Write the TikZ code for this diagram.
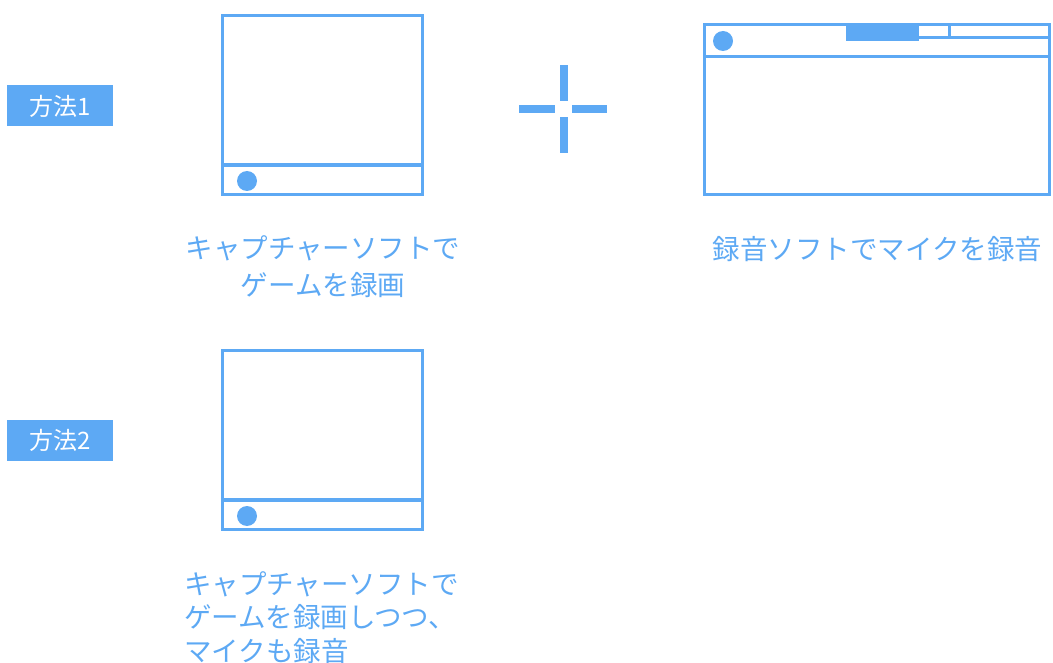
\documentclass[tikz,border=0pt]{standalone}
\usepackage{fontspec}
\newfontfamily\cjk{Noto Sans CJK JP}
\definecolor{bl}{HTML}{5DA9F4}
\tikzset{
  tag/.style={fill=bl, text=white, minimum width=106pt, minimum height=41pt, inner sep=0pt, font=\cjk\fontsize{24}{28}\selectfont},
  frame/.style={draw=bl, line width=3.5pt, inner sep=0pt},
  rule/.style={draw=bl, line width=3.5pt},
  dot/.style={circle, fill=bl, minimum size=20pt, inner sep=0pt},
  bar/.style={fill=bl, draw=none},
  caption/.style={text=bl, inner sep=0pt, font=\cjk\fontsize{27.5}{37}\selectfont}
}
\begin{document}
\begin{tikzpicture}[x=1pt,y=-1pt]
\useasboundingbox (0,0) rectangle (1053,663);
% labels
\node[tag] (m1) at (60,106) {方法1};
\node[tag] (m2) at (60,440.5) {方法2};
% game window 1
\node[frame, minimum width=200pt, minimum height=179pt] (w1) at (322.5,105) {};
\draw[rule] (w1.west |- 0,165) coordinate (w1a) -- (w1.east |- 0,165) coordinate (w1b);
\node[dot] (d1) at (247,181) {};
% game window 2
\node[frame, minimum width=200pt, minimum height=179pt] (w2) at (322.5,440) {};
\draw[rule] (w2.west |- 0,500) coordinate (w2a) -- (w2.east |- 0,500) coordinate (w2b);
\node[dot] (d2) at (247,516) {};
% plus
\fill[bar] (560,65) rectangle (568,101);
\fill[bar] (560,117) rectangle (568,153);
\fill[bar] (519,105) rectangle (555,113);
\fill[bar] (572,105) rectangle (607,113);
% recorder window
\node[frame, minimum width=345pt, minimum height=170pt] (w3) at (877,109.5) {};
\draw[rule] (w3.west |- 0,56.5) coordinate (w3a) -- (w3.east |- 0,56.5) coordinate (w3b);
\fill[bl] (846,24) rectangle (919,41);
\draw[rule] (919,37.5) coordinate (t1) -- (w3.east |- 0,37.5) coordinate (t2);
\draw[rule] (949.5,24) coordinate (t3) -- (949.5,37.5) coordinate (t4);
\node[dot] (d3) at (723,41) {};
% captions
\node[caption, align=center] (c1) at (323,266.5) {キャプチャーソフトで\\ゲームを録画};
\node[caption] (c3) at (877.5,249) {録音ソフトでマイクを録音};
\node[caption, align=left, anchor=west, font=\cjk\fontsize{27.5}{33.5}\selectfont] (c2) at (184,617.5) {キャプチャーソフトで\\ゲームを録画しつつ、\\マイクも録音};
\end{tikzpicture}
\end{document}
